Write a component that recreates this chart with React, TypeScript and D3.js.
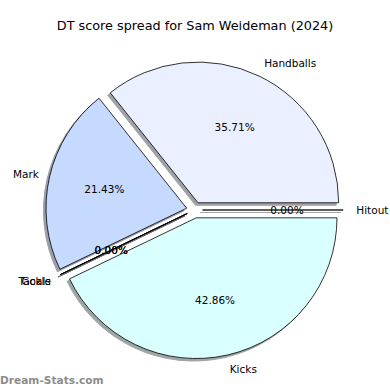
import { useEffect, useRef } from 'react';
import * as d3 from 'd3';

// DT score components, counter-clockwise from 3 o'clock (matplotlib order)
const LABELS = ['Handballs', 'Mark', 'Tackle', 'Goals', 'Kicks', 'Hitout'];
const VALUES = [5, 3, 0, 0, 6, 0];
const COLORS = ['#eaf0ff', '#c6d9ff', '#b0c8ff', '#e0e8ff', '#d9ffff', '#f0f4ff'];

const TITLE = 'DT score spread for Sam Weideman (2024)';
const WATERMARK = 'Dream-Stats.com';

const EXPLODE = 0.057; // fraction of radius
const FONT = 'DejaVu Sans, sans-serif';

function shade(c: string) {
  const rgb = d3.rgb(c);
  return d3.rgb(rgb.r * 0.3, rgb.g * 0.3, rgb.b * 0.3).formatHex();
}

export default function App() {
  const svgRef = useRef<SVGSVGElement>(null);

  useEffect(() => {
    if (!svgRef.current) return;
    const W = 390;
    const H = 390;
    const cx = 194.5;
    const cy = 210;
    const R = 140.7;

    const svg = d3.select(svgRef.current);
    svg.selectAll('*').remove();
    svg.attr('width', W).attr('height', H);

    svg.append('rect').attr('width', W).attr('height', H).attr('fill', '#ffffff');

    // mpl: 0deg at 3 o'clock, CCW  ->  d3: pi/2, decreasing
    const pie = d3.pie<number>().sort(null).value((d) => d)
      .startAngle(Math.PI / 2).endAngle(Math.PI / 2 - 2 * Math.PI);
    const arcs = pie(VALUES);
    const arc = d3.arc<d3.PieArcDatum<number>>().innerRadius(0).outerRadius(R);

    const g = svg.append('g').attr('transform', `translate(${cx},${cy})`);

    const mid = (a: d3.PieArcDatum<number>) => (a.startAngle + a.endAngle) / 2;
    const dir = (a: d3.PieArcDatum<number>) => [Math.sin(mid(a)), -Math.cos(mid(a))];

    const wedgePath = (a: d3.PieArcDatum<number>) => {
      if (a.value === 0) {
        const ang = a.startAngle;
        return `M0,0L${R * Math.sin(ang)},${-R * Math.cos(ang)}Z`;
      }
      return arc(a) as string;
    };

    // shadows first, underneath all wedges
    const shadows = g.append('g').attr('transform', 'translate(-2.5,2.5)');
    arcs.forEach((a, i) => {
      const [dx, dy] = dir(a);
      shadows.append('path')
        .attr('transform', `translate(${dx * EXPLODE * R},${dy * EXPLODE * R})`)
        .attr('d', wedgePath(a))
        .attr('fill', shade(COLORS[i]))
        .attr('stroke', shade(COLORS[i]))
        .attr('stroke-width', 1)
        .attr('opacity', 0.5);
    });

    arcs.forEach((a, i) => {
      const [dx, dy] = dir(a);
      g.append('path')
        .attr('transform', `translate(${dx * EXPLODE * R},${dy * EXPLODE * R})`)
        .attr('d', wedgePath(a))
        .attr('fill', COLORS[i])
        .attr('stroke', '#000')
        .attr('stroke-width', 0.8)
        .attr('stroke-linejoin', 'miter');
    });

    const total = d3.sum(VALUES);

    arcs.forEach((a, i) => {
      const [dx, dy] = dir(a);
      const lr = (EXPLODE + 1.1) * R;
      g.append('text')
        .attr('x', dx * lr - (dx > 0 ? 1 : -3))
        .attr('y', dy * lr)
        .attr('text-anchor', dx > 0 ? 'start' : 'end')
        .attr('dominant-baseline', 'central')
        .attr('font-family', FONT)
        .attr('font-size', 10.5)
        .attr('fill', '#000')
        .text(LABELS[i]);

      const pr = (EXPLODE + 0.6) * R;
      g.append('text')
        .attr('x', dx * pr)
        .attr('y', dy * pr)
        .attr('text-anchor', 'middle')
        .attr('dominant-baseline', 'central')
        .attr('font-family', FONT)
        .attr('font-size', 10.5)
        .attr('fill', '#000')
        .text(`${((a.value / total) * 100).toFixed(2)}%`);
    });

    svg.append('text')
      .attr('x', W / 2)
      .attr('y', 30)
      .attr('text-anchor', 'middle')
      .attr('font-family', FONT)
      .attr('font-size', 12.8)
      .attr('fill', '#000')
      .text(TITLE);

    svg.append('text')
      .attr('x', 0)
      .attr('y', 384)
      .attr('font-family', FONT)
      .attr('font-weight', 'bold')
      .attr('font-size', 10.6)
      .attr('fill', '#8c8c8c')
      .text(WATERMARK);
  }, []);

  return (
    <svg ref={svgRef} style={{ position: 'fixed', left: 0, top: 0, display: 'block' }} />
  );
}
